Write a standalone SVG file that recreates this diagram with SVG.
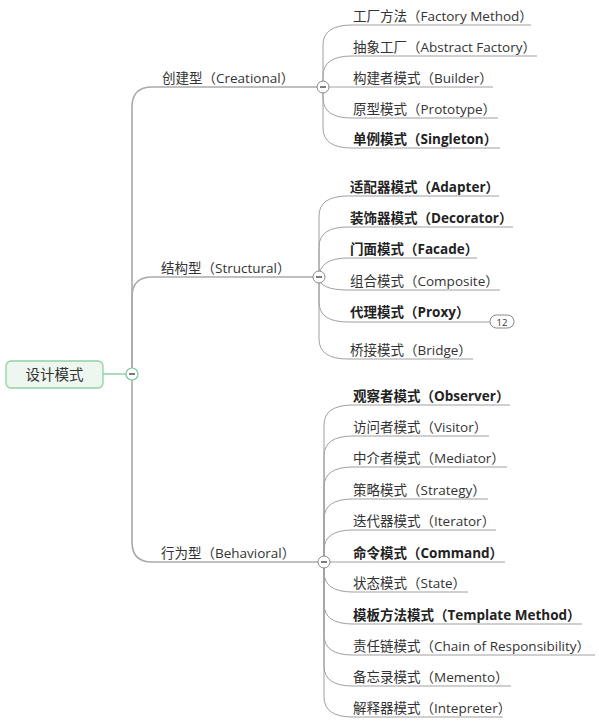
<svg xmlns="http://www.w3.org/2000/svg" width="599" height="723" viewBox="0 0 599 723">
<style>
text{font-family:"Open Sans","Noto Sans CJK SC",sans-serif;font-size:13.5px;fill:#333}
.b{font-weight:bold;fill:#222}
.main{fill:none;stroke:#aaa;stroke-width:1.6}
.sub{fill:none;stroke:#a0a0a0;stroke-width:1}
.btn{fill:#fff;stroke:#888;stroke-width:1}
.minus{stroke:#333;stroke-width:1.3}
</style>
<rect width="599" height="723" fill="#fff"/>
<g id="connectors">
<line x1="103" y1="374" x2="126" y2="374" stroke="#7dc99a" stroke-width="1.3"/>
<path class="main" d="M132 374 L132 107 Q132 87 152 87 L317 87"/>
<path class="main" d="M132 374 L132 297 Q132 277 152 277 L313 277"/>
<path class="main" d="M132 374 L132 542 Q132 562 152 562 L318 562"/>
<path class="sub" d="M323 87 L323 45 Q323 25 352 25 L531 25"/>
<path class="sub" d="M323 87 L323 76 Q323 56 352 56 L537 56"/>
<path class="sub" d="M329 87 L493 87"/>
<path class="sub" d="M323 87 L323 98 Q323 118 352 118 L498 118"/>
<path class="sub" d="M323 87 L323 128 Q323 148 352 148 L500 148"/>
<path class="sub" d="M319 277 L319 216 Q319 196 348 196 L499 196"/>
<path class="sub" d="M319 277 L319 247 Q319 227 348 227 L513 227"/>
<path class="sub" d="M319 277 L319 278 Q319 258 348 258 L477 258"/>
<path class="sub" d="M319 277 Q319 290 348 290 L500 290"/>
<path class="sub" d="M319 277 L319 302 Q319 322 348 322 L490 322"/>
<path class="sub" d="M319 277 L319 339 Q319 359 348 359 L473 359"/>
<path class="sub" d="M324 562 L324 425 Q324 405 353 405 L510 405"/>
<path class="sub" d="M324 562 L324 456 Q324 436 353 436 L489 436"/>
<path class="sub" d="M324 562 L324 487 Q324 467 353 467 L507 467"/>
<path class="sub" d="M324 562 L324 519 Q324 499 353 499 L488 499"/>
<path class="sub" d="M324 562 L324 550 Q324 530 353 530 L496 530"/>
<path class="sub" d="M330 562 L505 562"/>
<path class="sub" d="M324 562 L324 572 Q324 592 353 592 L468 592"/>
<path class="sub" d="M324 562 L324 604 Q324 624 353 624 L582 624"/>
<path class="sub" d="M324 562 L324 635 Q324 655 353 655 L595 655"/>
<path class="sub" d="M324 562 L324 666 Q324 686 353 686 L511 686"/>
<path class="sub" d="M324 562 L324 697 Q324 717 353 717 L503 717"/>
</g>
<g id="root">
<rect x="6" y="361" width="97" height="27" rx="5" fill="#eef6f0" stroke="#8fd1a5" stroke-width="1.3"/>
<text x="54.5" y="379.5" text-anchor="middle" style="font-size:14.5px">设计模式</text>
<circle cx="132" cy="374" r="6" fill="#fff" stroke="#7dc99a" stroke-width="1.2"/>
<line class="minus" x1="129" y1="374" x2="135" y2="374"/>
</g>
<g id="creational">
<text x="162" y="83">创建型（Creational）</text>
<circle class="btn" cx="323" cy="87" r="6"/>
<line class="minus" x1="320" y1="87" x2="326" y2="87"/>
</g>
<g id="structural">
<text x="161" y="273">结构型（Structural）</text>
<circle class="btn" cx="319" cy="277" r="6"/>
<line class="minus" x1="316" y1="277" x2="322" y2="277"/>
</g>
<g id="behavioral">
<text x="161" y="558">行为型（Behavioral）</text>
<circle class="btn" cx="324" cy="562" r="6"/>
<line class="minus" x1="321" y1="562" x2="327" y2="562"/>
</g>
<g id="c1"><text x="353" y="21">工厂方法（Factory Method）</text></g>
<g id="c2"><text x="353" y="52">抽象工厂（Abstract Factory）</text></g>
<g id="c3"><text x="353" y="83">构建者模式（Builder）</text></g>
<g id="c4"><text x="353" y="114">原型模式（Prototype）</text></g>
<g id="c5"><text class="b" x="353" y="144">单例模式（Singleton）</text></g>
<g id="s1"><text class="b" x="350" y="192">适配器模式（Adapter）</text></g>
<g id="s2"><text class="b" x="350" y="223">装饰器模式（Decorator）</text></g>
<g id="s3"><text class="b" x="350" y="254">门面模式（Facade）</text></g>
<g id="s4"><text x="350" y="286">组合模式（Composite）</text></g>
<g id="s5"><text class="b" x="350" y="317">代理模式（Proxy）</text>
<rect x="490" y="315" width="24" height="13" rx="6.5" fill="#fff" stroke="#888" stroke-width="1"/>
<text x="502" y="325.5" text-anchor="middle" style="font-size:9.5px">12</text></g>
<g id="s6"><text x="350" y="355">桥接模式（Bridge）</text></g>
<g id="b1"><text class="b" x="353" y="401">观察者模式（Observer）</text></g>
<g id="b2"><text x="353" y="432">访问者模式（Visitor）</text></g>
<g id="b3"><text x="353" y="463">中介者模式（Mediator）</text></g>
<g id="b4"><text x="353" y="495">策略模式（Strategy）</text></g>
<g id="b5"><text x="353" y="526">迭代器模式（Iterator）</text></g>
<g id="b6"><text class="b" x="353" y="558">命令模式（Command）</text></g>
<g id="b7"><text x="353" y="588">状态模式（State）</text></g>
<g id="b8"><text class="b" x="353" y="620">模板方法模式（Template Method）</text></g>
<g id="b9"><text x="353" y="651">责任链模式（Chain of Responsibility）</text></g>
<g id="b10"><text x="353" y="682">备忘录模式（Memento）</text></g>
<g id="b11"><text x="353" y="713">解释器模式（Intepreter）</text></g>
</svg>
